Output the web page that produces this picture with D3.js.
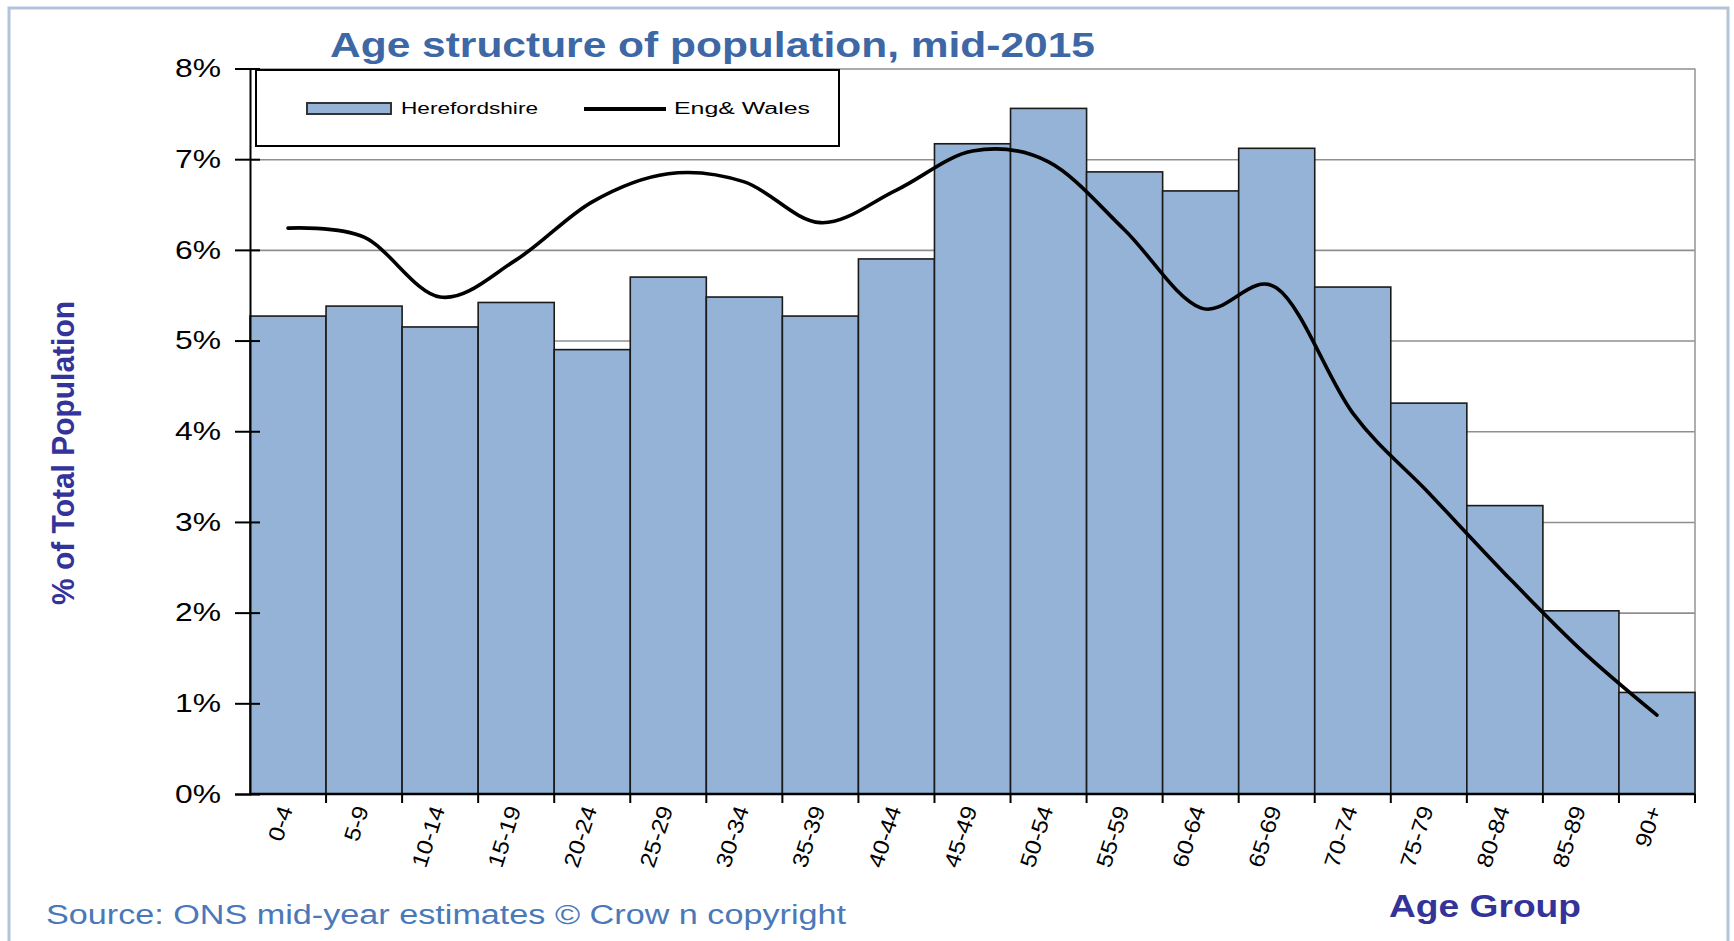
<!DOCTYPE html>
<html>
<head>
<meta charset="utf-8">
<script src="https://cdn.jsdelivr.net/npm/d3@7"></script>
<style>
	body { margin: 0; background: #fff; }
	text { font-family: "Liberation Sans", Arial, sans-serif; }
</style>
</head>
<body>
<div id="chart"></div>
<script>
	//
	// Data
	//
	let ageGroups = ["0-4", "5-9", "10-14", "15-19", "20-24", "25-29", "30-34", "35-39", "40-44",
		"45-49", "50-54", "55-59", "60-64", "65-69", "70-74", "75-79", "80-84", "85-89", "90+"];
	let herefordshire = [5.27, 5.38, 5.15, 5.42, 4.90, 5.70, 5.48, 5.27, 5.90,
		7.17, 7.56, 6.86, 6.65, 7.12, 5.59, 4.31, 3.18, 2.02, 1.12];
	let engWales = [6.24, 6.14, 5.48, 5.89, 6.53, 6.84, 6.75, 6.30, 6.66,
		7.09, 6.97, 6.22, 5.36, 5.58, 4.20, 3.32, 2.43, 1.59, 0.87];
	let yTicks = [0, 1, 2, 3, 4, 5, 6, 7, 8];

	let BAR_FILL = "#95b3d7";
	let AXIS_BLUE = "#333399";

	var svg_width = 1734,
		svg_height = 941;

	var plot = { left: 250, right: 1695, top: 68.5, bottom: 794 };

	var svg = d3.select("#chart").append("svg")
		.attr("width", svg_width)
		.attr("height", svg_height);

	// outer frame
	svg.append("rect")
		.attr("x", 9).attr("y", 8)
		.attr("width", 1719).attr("height", 960)
		.attr("fill", "none")
		.attr("stroke", "#b3c3d9")
		.attr("stroke-width", 3);

	var x = d3.scaleBand()
		.domain(ageGroups)
		.range([plot.left, plot.right])
		.padding(0);

	var y = d3.scaleLinear()
		.domain([0, 8])
		.range([plot.bottom, plot.top]);

	// gridlines
	svg.append("g")
		.attr("transform", "translate(" + plot.left + ",0)")
		.call(d3.axisLeft(y).tickValues(yTicks.slice(1)).tickSize(-(plot.right - plot.left)).tickFormat(""))
		.call(g => g.select(".domain").remove())
		.selectAll(".tick line")
		.attr("stroke", "#8f8f8f")
		.attr("stroke-width", 1.6);

	// plot right border
	svg.append("line")
		.attr("x1", plot.right).attr("x2", plot.right)
		.attr("y1", plot.top).attr("y2", plot.bottom)
		.attr("stroke", "#9a9a9a")
		.attr("stroke-width", 1.6);

	// bars
	svg.selectAll(".bar")
		.data(herefordshire)
		.enter()
		.append("rect")
		.attr("class", "bar")
		.attr("x", (d, i) => x(ageGroups[i]))
		.attr("width", x.bandwidth())
		.attr("y", d => y(d))
		.attr("height", d => y(0) - y(d))
		.attr("fill", BAR_FILL)
		.attr("stroke", "#1a1a1a")
		.attr("stroke-width", 1.6);

	// Eng & Wales smoothed line
	var line = d3.line()
		.x((d, i) => x(ageGroups[i]) + x.bandwidth() / 2)
		.y(d => y(d))
		.curve(d3.curveCatmullRom.alpha(0));

	svg.append("path")
		.datum(engWales)
		.attr("d", line)
		.attr("fill", "none")
		.attr("stroke", "#000")
		.attr("stroke-width", 3.6)
		.attr("stroke-linecap", "round");

	// y axis
	var yAxis = svg.append("g")
		.attr("transform", "translate(" + plot.left + ",0)")
		.call(d3.axisLeft(y).tickValues(yTicks).tickFormat(d => d + "%").tickSize(15).tickPadding(14));
	yAxis.select(".domain").attr("stroke", "#000").attr("stroke-width", 2);
	yAxis.selectAll(".tick line").attr("x1", 10).attr("stroke-width", 2);
	yAxis.selectAll(".tick text")
		.attr("font-size", 26)
		.attr("fill", "#000")
		.attr("textLength", d => 46)
		.attr("lengthAdjust", "spacingAndGlyphs");

	// x axis line and ticks at band edges
	svg.append("line")
		.attr("x1", plot.left).attr("x2", plot.right)
		.attr("y1", plot.bottom).attr("y2", plot.bottom)
		.attr("stroke", "#000")
		.attr("stroke-width", 2.6);

	svg.selectAll(".xtick")
		.data(ageGroups)
		.enter()
		.append("line")
		.attr("class", "xtick")
		.attr("x1", d => x(d) + x.bandwidth())
		.attr("x2", d => x(d) + x.bandwidth())
		.attr("y1", plot.bottom)
		.attr("y2", plot.bottom + 9)
		.attr("stroke", "#000")
		.attr("stroke-width", 2);

	svg.selectAll(".xlabel")
		.data(ageGroups)
		.enter()
		.append("text")
		.attr("class", "xlabel")
		.attr("transform", d => "translate(" + (x(d) + x.bandwidth() / 2 + 5) + "," + (plot.bottom + 15) + ") rotate(-72) scale(1.12,1)")
		.attr("text-anchor", "end")
		.attr("font-size", 22)
		.attr("fill", "#000")
		.text(d => d);

	// title
	svg.append("text")
		.attr("x", 330).attr("y", 57)
		.attr("font-size", 35)
		.attr("font-weight", "bold")
		.attr("fill", "#3d67a5")
		.attr("textLength", 765)
		.attr("lengthAdjust", "spacingAndGlyphs")
		.text("Age structure  of population, mid-2015");

	// axis titles
	svg.append("text")
		.attr("transform", "translate(74,453) rotate(-90)")
		.attr("text-anchor", "middle")
		.attr("font-size", 31)
		.attr("font-weight", "bold")
		.attr("fill", AXIS_BLUE)
		.attr("textLength", 304)
		.attr("lengthAdjust", "spacingAndGlyphs")
		.text("% of Total Population");

	svg.append("text")
		.attr("x", 1389).attr("y", 917)
		.attr("font-size", 31)
		.attr("font-weight", "bold")
		.attr("fill", AXIS_BLUE)
		.attr("textLength", 192)
		.attr("lengthAdjust", "spacingAndGlyphs")
		.text("Age Group");

	// source
	svg.append("text")
		.attr("x", 46).attr("y", 924)
		.attr("font-size", 27)
		.attr("fill", "#4a78b8")
		.attr("textLength", 800)
		.attr("lengthAdjust", "spacingAndGlyphs")
		.text("Source: ONS mid-year estimates \u00a9 Crow n copyright");

	// legend
	var legend = svg.append("g").attr("class", "legend");
	legend.append("rect")
		.attr("x", 256).attr("y", 70)
		.attr("width", 583).attr("height", 76)
		.attr("fill", "#fff")
		.attr("stroke", "#000")
		.attr("stroke-width", 2);
	legend.append("rect")
		.attr("x", 307).attr("y", 103)
		.attr("width", 84).attr("height", 11)
		.attr("fill", BAR_FILL)
		.attr("stroke", "#333")
		.attr("stroke-width", 2);
	legend.append("text")
		.attr("x", 401).attr("y", 114)
		.attr("font-size", 16)
		.attr("fill", "#000")
		.attr("textLength", 137)
		.attr("lengthAdjust", "spacingAndGlyphs")
		.text("Herefordshire");
	legend.append("line")
		.attr("x1", 584).attr("x2", 666)
		.attr("y1", 109).attr("y2", 109)
		.attr("stroke", "#000")
		.attr("stroke-width", 4);
	legend.append("text")
		.attr("x", 674).attr("y", 114)
		.attr("font-size", 16)
		.attr("fill", "#000")
		.attr("textLength", 136)
		.attr("lengthAdjust", "spacingAndGlyphs")
		.text("Eng& Wales");
</script>
</body>
</html>
